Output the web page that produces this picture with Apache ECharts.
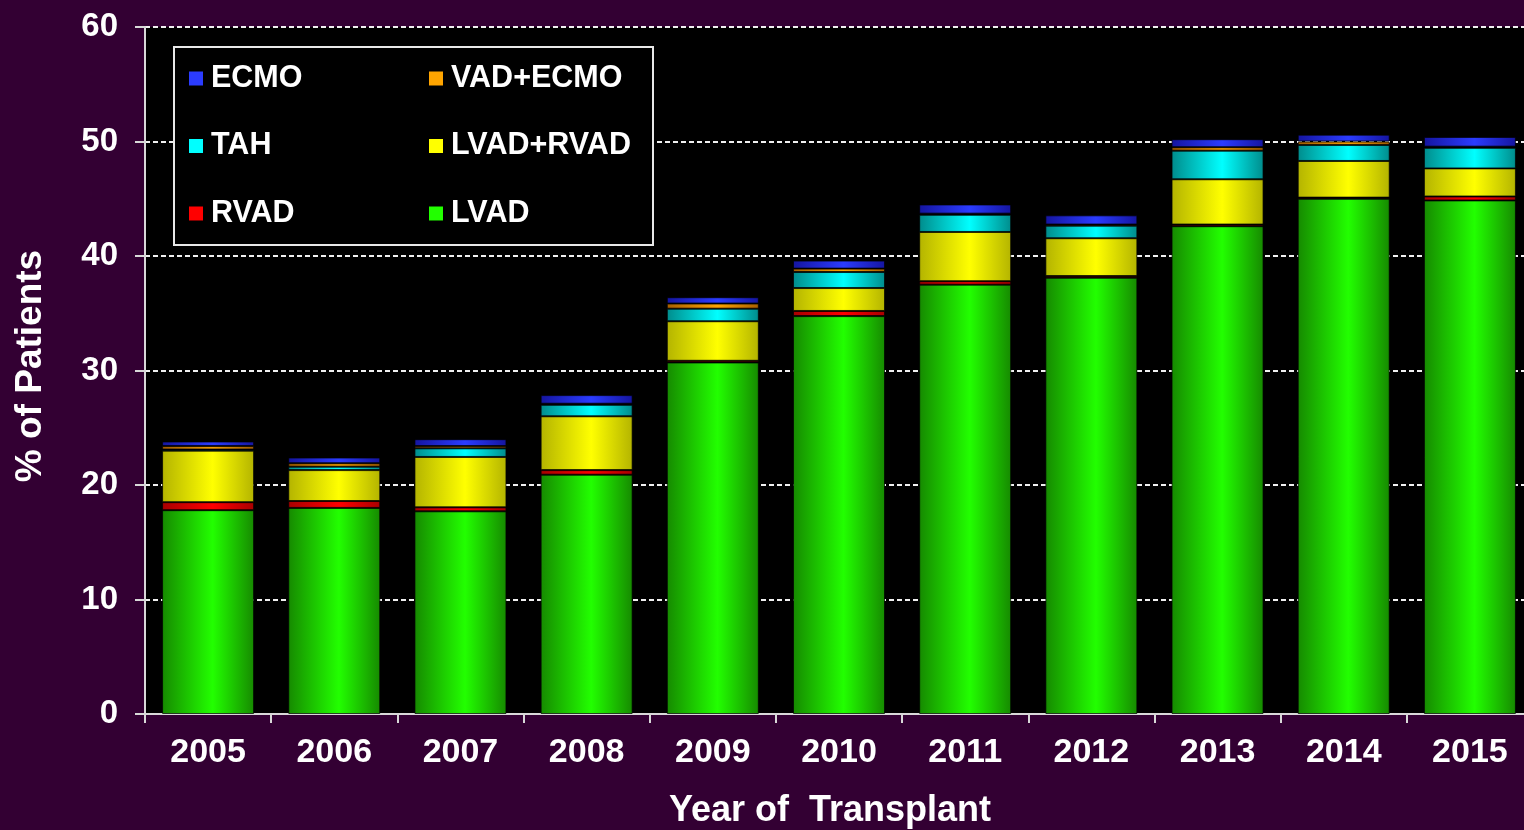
<!DOCTYPE html>
<html>
<head>
<meta charset="utf-8">
<title>Year of Transplant</title>
<script src="https://cdn.jsdelivr.net/npm/echarts@6/dist/echarts.min.js"></script>
<style>
  html, body { margin: 0; padding: 0; background: #330033; overflow: hidden; }
  /* plot runs a bit past the right edge of the window, like the slide */
  #chart { width: 1540px; height: 830px; }
</style>
</head>
<body>
<div id="chart"></div>
<script>
// data (% of patients)
const years = ["2005", "2006", "2007", "2008", "2009", "2010", "2011", "2012", "2013", "2014", "2015"];
const lvad = [17.8, 18.0, 17.7, 20.9, 30.7, 34.75, 37.5, 38.1, 42.6, 45.0, 44.85];
const rvad = [0.7, 0.6, 0.35, 0.4, 0.15, 0.45, 0.3, 0.15, 0.15, 0.1, 0.35];
const lvadRvad = [4.5, 2.7, 4.4, 4.7, 3.45, 2.0, 4.3, 3.3, 3.95, 3.2, 2.45];
const tah = [0.1, 0.3, 0.75, 1.0, 1.1, 1.4, 1.5, 1.1, 2.5, 1.4, 1.8];
const vadEcmo = [0.3, 0.3, 0.2, 0.1, 0.45, 0.3, 0.1, 0.1, 0.3, 0.3, 0.1];
const ecmo = [0.4, 0.5, 0.6, 0.75, 0.55, 0.7, 0.8, 0.8, 0.7, 0.6, 0.85];
const yTicks = [0, 10, 20, 30, 40, 50, 60];

const font = '"Liberation Sans", Arial, sans-serif';

// name, values, bright centre colour, dark edge colour
const stack = [
  ["LVAD", lvad, "#22ff00", "#168a00"],
  ["RVAD", rvad, "#ff0000", "#a80000"],
  ["LVAD+RVAD", lvadRvad, "#ffff00", "#b4b400"],
  ["TAH", tah, "#00ffff", "#008c8c"],
  ["VAD+ECMO", vadEcmo, "#ffa500", "#a86000"],
  ["ECMO", ecmo, "#2b3cff", "#1515a0"]
];

function shade(center, edge) {
  return {
    type: "linear", x: 0, y: 0, x2: 1, y2: 0,
    colorStops: [
      { offset: 0, color: edge },
      { offset: 0.55, color: center },
      { offset: 1, color: edge }
    ]
  };
}

function legendItems(names) {
  return names.map(n => {
    const s = stack.find(x => x[0] === n);
    return { name: n, itemStyle: { color: s[2], borderWidth: 0 } };
  });
}

const legendBase = {
  orient: "vertical",
  top: 58,
  itemWidth: 14,
  itemHeight: 14,
  itemGap: 36.5,
  icon: "rect",
  z: 6,
  textStyle: {
    color: "#fff",
    fontFamily: font,
    fontWeight: "bold",
    fontSize: 30.5,
    lineHeight: 28,
    padding: [0, 0, 0, 3]
  }
};

const chart = echarts.init(document.getElementById("chart"));
chart.setOption({
  backgroundColor: "#330033",
  animation: false,
  grid: {
    left: 145, top: 27, width: 1388, height: 687,
    show: true, backgroundColor: "#000", borderWidth: 0
  },
  legend: [
    Object.assign({}, legendBase, { left: 184, data: legendItems(["ECMO", "TAH", "RVAD"]) }),
    Object.assign({}, legendBase, { left: 424, data: legendItems(["VAD+ECMO", "LVAD+RVAD", "LVAD"]) })
  ],
  graphic: [
    {
      type: "rect", z: 4,
      shape: { x: 174, y: 47, width: 479, height: 198 },
      style: { fill: "#000", stroke: "#e8e8e8", lineWidth: 2 }
    },
    {
      type: "text", z: 5, x: 830, y: 811,
      style: {
        text: "Year of  Transplant", fill: "#fff",
        font: "bold 36px " + font,
        textAlign: "center", textVerticalAlign: "middle"
      }
    },
    {
      type: "text", z: 5, x: 31, y: 366, rotation: Math.PI / 2,
      style: {
        text: "% of Patients", fill: "#fff",
        font: "bold 37px " + font,
        textAlign: "center", textVerticalAlign: "middle"
      }
    }
  ],
  xAxis: {
    type: "category",
    data: years,
    axisLine: { lineStyle: { color: "#d8d8d8", width: 2 } },
    axisTick: { show: true, length: 9, lineStyle: { color: "#d8d8d8", width: 2 } },
    axisLabel: {
      color: "#fff", fontFamily: font, fontWeight: "bold", fontSize: 34, margin: 22
    },
    splitLine: { show: false }
  },
  yAxis: {
    type: "value",
    min: yTicks[0],
    max: yTicks[yTicks.length - 1],
    interval: 10,
    axisLine: { show: true, lineStyle: { color: "#d8d8d8", width: 2 } },
    axisTick: { show: true, length: 10, lineStyle: { color: "#d8d8d8", width: 2 } },
    axisLabel: {
      color: "#fff", fontFamily: font, fontWeight: "bold", fontSize: 33, margin: 27
    },
    splitLine: { lineStyle: { color: "#f0f0f0", width: 2, type: [5, 3] } }
  },
  series: stack.map(s => ({
    name: s[0],
    type: "bar",
    stack: "total",
    barWidth: 92,
    data: s[1],
    itemStyle: {
      color: shade(s[2], s[3]),
      borderColor: "rgba(0,0,0,0.7)",
      borderWidth: 1
    }
  }))
});
</script>
</body>
</html>
